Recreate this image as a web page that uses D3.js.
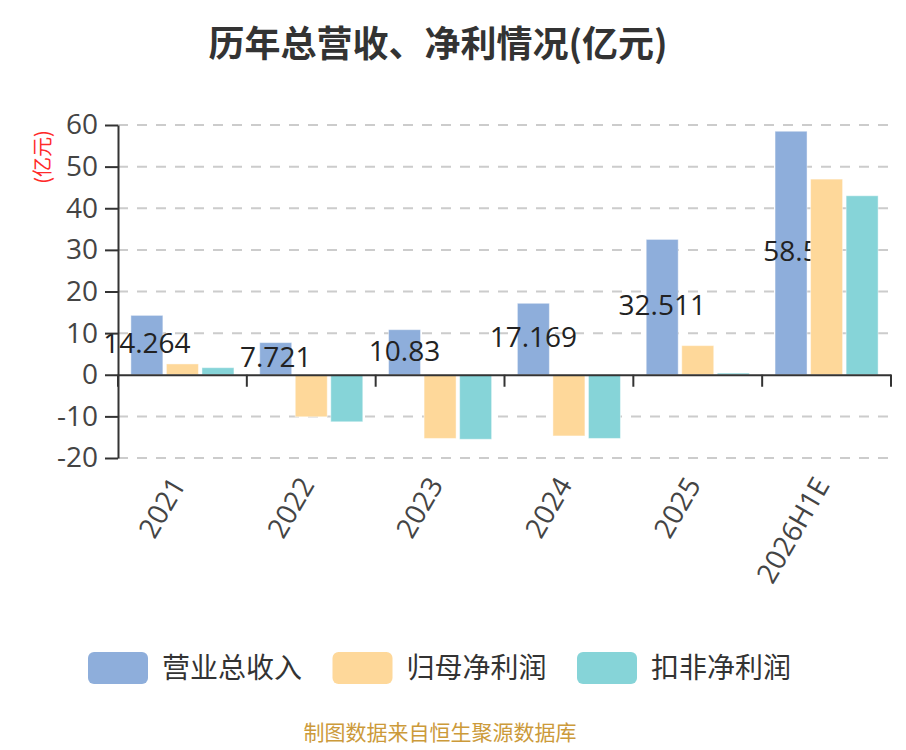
<!DOCTYPE html>
<html>
<head>
<meta charset="utf-8">
<script src="https://cdn.jsdelivr.net/npm/d3@7/dist/d3.min.js"></script>
<style>
  body { margin: 0; background: #fff; }
  svg { font-family: "Noto Sans CJK SC", "Noto Sans", sans-serif; }
</style>
</head>
<body>
<svg width="906" height="750"></svg>
<script>
// data
const years = ['2021', '2022', '2023', '2024', '2025', '2026H1E'];
const seriesNames = ['营业总收入', '归母净利润', '扣非净利润'];
const revenue = [14.264, 7.721, 10.83, 17.169, 32.511, 58.5];
const netProfit = [2.6, -10.1, -15.3, -14.7, 7.0, 47.0];
const deductedProfit = [1.7, -11.3, -15.5, -15.3, 0.4, 43.0];
const yTicks = [-20, -10, 0, 10, 20, 30, 40, 50, 60];
const colors = ['#8eaedb', '#fed89a', '#86d4d8'];

const values = [revenue, netProfit, deductedProfit];
const numFont = '"Open Sans", "Noto Sans", sans-serif';

const svg = d3.select('svg');
const plotLeft = 118, plotRight = 891, plotTop = 125, plotBottom = 458;

const x = d3.scaleBand()
  .domain(years)
  .range([plotLeft, plotRight])
  .paddingInner(0.2)
  .paddingOuter(0.1);

const xs = d3.scaleBand()
  .domain(d3.range(seriesNames.length))
  .range([0, x.bandwidth()])
  .paddingInner(0.1);

const y = d3.scaleLinear()
  .domain([-20, 60])
  .range([plotBottom, plotTop]);

// title
svg.append('text')
  .attr('x', 438)
  .attr('y', 57)
  .attr('text-anchor', 'middle')
  .attr('font-size', 36)
  .attr('font-weight', 'bold')
  .attr('fill', '#333')
  .text('历年总营收、净利情况(亿元)');

// unit label
svg.append('text')
  .attr('transform', 'translate(50,157) rotate(-90)')
  .attr('text-anchor', 'middle')
  .attr('font-size', 20)
  .attr('fill', '#ff2a2a')
  .text('(亿元)');

// grid lines
svg.append('g')
  .selectAll('line')
  .data(yTicks.filter(d => d !== 0))
  .join('line')
  .attr('x1', plotLeft)
  .attr('x2', plotRight)
  .attr('y1', d => y(d))
  .attr('y2', d => y(d))
  .attr('stroke', '#ccc')
  .attr('stroke-width', 2)
  .attr('stroke-dasharray', '10,9');

// bars, one series at a time; revenue labels sit in the middle of the bar
values.forEach((vals, si) => {
  const g = svg.append('g');
  g.selectAll('rect')
    .data(vals)
    .join('rect')
    .attr('x', (d, i) => x(years[i]) + xs(si))
    .attr('width', xs.bandwidth())
    .attr('y', d => y(Math.max(0, d)))
    .attr('height', d => Math.abs(y(d) - y(0)))
    .attr('fill', colors[si])
    .attr('stroke', '#fff')
    .attr('stroke-opacity', 0.45)
    .attr('stroke-width', 1);

  if (si === 0) {
    g.selectAll('text')
      .data(vals)
      .join('text')
      .attr('x', (d, i) => x(years[i]) + xs(si) + xs.bandwidth() / 2)
      .attr('y', d => (y(d) + y(0)) / 2)
      .attr('dy', '0.3em')
      .attr('text-anchor', 'middle')
      .attr('font-size', 28)
      .attr('font-family', numFont)
      .attr('fill', '#222')
      .text(d => d);
  }
});

// y axis
const yAxis = svg.append('g')
  .attr('transform', `translate(${plotLeft},0)`)
  .call(d3.axisLeft(y).tickValues(yTicks).tickFormat(d => String(d))
    .tickSize(13).tickSizeOuter(0).tickPadding(7));
yAxis.select('.domain').attr('stroke', '#333').attr('stroke-width', 2);
yAxis.selectAll('.tick line').attr('stroke', '#333').attr('stroke-width', 2);
yAxis.selectAll('.tick text')
  .attr('font-size', 28)
  .attr('fill', '#444')
  .attr('font-family', numFont);

// x axis on the zero line, ticks between bands, rotated labels further down
const step = x.step();
const xAxis = svg.append('g')
  .attr('transform', `translate(0,${y(0)})`)
  .call(d3.axisBottom(x).tickSize(12).tickSizeOuter(0));
xAxis.select('.domain').attr('stroke', '#333').attr('stroke-width', 2);
xAxis.selectAll('.tick line')
  .attr('stroke', '#333')
  .attr('stroke-width', 2)
  .attr('x1', -step / 2)
  .attr('x2', -step / 2);
xAxis.append('line')
  .attr('x1', plotRight)
  .attr('x2', plotRight)
  .attr('y1', 0)
  .attr('y2', 12)
  .attr('stroke', '#333')
  .attr('stroke-width', 2);
xAxis.selectAll('.tick text')
  .attr('y', null)
  .attr('dy', null)
  .attr('transform', 'translate(4,110) rotate(-60)')
  .attr('text-anchor', 'end')
  .attr('font-size', 28)
  .attr('fill', '#444')
  .attr('font-family', numFont);

// legend
const legend = svg.append('g')
  .selectAll('g')
  .data(seriesNames)
  .join('g')
  .attr('transform', (d, i) => `translate(${88 + i * 244.5},652)`);
legend.append('rect')
  .attr('width', 60)
  .attr('height', 32)
  .attr('rx', 6)
  .attr('fill', (d, i) => colors[i]);
legend.append('text')
  .attr('x', 74)
  .attr('y', 16)
  .attr('dy', '0.36em')
  .attr('font-size', 28)
  .attr('fill', '#333')
  .text(d => d);

// source note
svg.append('text')
  .attr('x', 440)
  .attr('y', 740)
  .attr('text-anchor', 'middle')
  .attr('font-size', 21)
  .attr('fill', '#cc9a3a')
  .text('制图数据来自恒生聚源数据库');
</script>
</body>
</html>
